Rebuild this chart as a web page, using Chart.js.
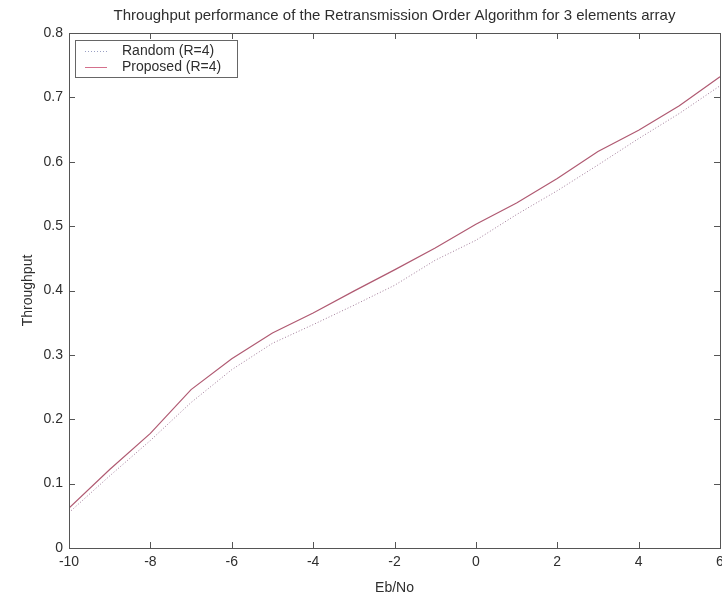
<!DOCTYPE html>
<html>
<head>
<meta charset="utf-8">
<script src="https://cdn.jsdelivr.net/npm/chart.js@4"></script>
<style>
html,body{margin:0;padding:0;background:#fff;}
#wrap{width:722px;height:598px;position:relative;}
</style>
</head>
<body>
<div id="wrap"><canvas id="c" width="722" height="598"></canvas></div>
<script>
const ebno = [-10, -9, -8, -7, -6, -5, -4, -3, -2, -1, 0, 1, 2, 3, 4, 5, 6];
const randomR4 = [0.055, 0.112, 0.167, 0.226, 0.277, 0.318, 0.347, 0.377, 0.408, 0.447, 0.478, 0.518, 0.555, 0.595, 0.636, 0.675, 0.718];
const proposedR4 = [0.062, 0.122, 0.178, 0.246, 0.294, 0.334, 0.365, 0.399, 0.432, 0.466, 0.503, 0.536, 0.574, 0.616, 0.649, 0.687, 0.732];
const xTickLabels = ['-10', '-8', '-6', '-4', '-2', '0', '2', '4', '6'];
const yTickLabels = ['0', '0.1', '0.2', '0.3', '0.4', '0.5', '0.6', '0.7', '0.8'];
const seriesNames = ['Random (R=4)', 'Proposed (R=4)'];
const titleText = 'Throughput performance of the Retransmission Order Algorithm for 3 elements array';

const FONT = 'Arial, "Liberation Sans", Helvetica, sans-serif';
const TXT = '#2e2e2e';
const RAND_COLOR = '#a07a98';
const PROP_COLOR = '#b05a72';

const framePlugin = {
  id: 'frame',
  afterDatasetsDraw(chart) {
    const {ctx, chartArea: a, scales} = chart;
    ctx.save();
    // title, centred on plot area
    ctx.font = '15px ' + FONT;
    ctx.fillStyle = TXT;
    ctx.textAlign = 'center';
    ctx.textBaseline = 'middle';
    ctx.fillText(titleText, (a.left + a.right) / 2, 16);

    ctx.strokeStyle = '#555';
    ctx.lineWidth = 1;
    ctx.strokeRect(Math.round(a.left) + 0.5, Math.round(a.top) + 0.5, Math.round(a.right - a.left), Math.round(a.bottom - a.top));
    const tl = 6;
    ctx.beginPath();
    scales.x.ticks.forEach(t => {
      const px = Math.round(scales.x.getPixelForValue(t.value)) + 0.5;
      ctx.moveTo(px, a.bottom); ctx.lineTo(px, a.bottom - tl);
      ctx.moveTo(px, a.top); ctx.lineTo(px, a.top + tl);
    });
    scales.y.ticks.forEach(t => {
      const py = Math.round(scales.y.getPixelForValue(t.value)) + 0.5;
      ctx.moveTo(a.left, py); ctx.lineTo(a.left + tl, py);
      ctx.moveTo(a.right, py); ctx.lineTo(a.right - tl, py);
    });
    ctx.stroke();

    // legend box
    const lx = a.left + 6, ly = a.top + 7, lw = 162, lh = 37;
    ctx.fillStyle = '#ffffff';
    ctx.fillRect(lx, ly, lw, lh);
    ctx.strokeStyle = '#666';
    ctx.strokeRect(lx + 0.5, ly + 0.5, lw, lh);
    const ds = chart.data.datasets;
    ctx.font = '14px ' + FONT;
    ctx.textBaseline = 'middle';
    ctx.textAlign = 'left';
    ds.forEach((d, i) => {
      const yy = ly + 11 + i * 16;
      ctx.beginPath();
      ctx.strokeStyle = i === 0 ? '#9aa0c4' : '#d4708c';
      ctx.setLineDash(d.borderDash || []);
      ctx.lineWidth = 1;
      ctx.moveTo(lx + 10, yy + 0.5); ctx.lineTo(lx + 32, yy + 0.5);
      ctx.stroke();
      ctx.setLineDash([]);
      ctx.fillStyle = TXT;
      ctx.fillText(d.label, lx + 47, yy);
    });
    ctx.restore();
  }
};

new Chart(document.getElementById('c'), {
  type: 'line',
  data: {
    labels: ebno,
    datasets: [
      {
        label: seriesNames[0],
        data: ebno.map((x, i) => ({x: x, y: randomR4[i]})),
        borderColor: RAND_COLOR,
        borderWidth: 1,
        borderDash: [1, 2],
        pointRadius: 0,
        tension: 0,
        fill: false
      },
      {
        label: seriesNames[1],
        data: ebno.map((x, i) => ({x: x, y: proposedR4[i]})),
        borderColor: PROP_COLOR,
        borderWidth: 1.2,
        pointRadius: 0,
        tension: 0,
        fill: false
      }
    ]
  },
  options: {
    responsive: false,
    animation: false,
    devicePixelRatio: 1,
    layout: {padding: {left: 0, right: 2, top: 33, bottom: 0}},
    plugins: {
      legend: {display: false},
      tooltip: {enabled: false},
      title: {display: false}
    },
    scales: {
      x: {
        type: 'linear',
        min: -10, max: 6,
        grid: {display: false, drawTicks: false},
        border: {display: false},
        ticks: {
          stepSize: 2,
          padding: 6,
          color: TXT,
          font: {family: FONT, size: 14},
          maxRotation: 0,
          autoSkip: false,
          callback: (v, i) => xTickLabels[i]
        },
        title: {
          display: true,
          text: 'Eb/No',
          color: TXT,
          font: {family: FONT, size: 14},
          padding: {top: 0, bottom: 1}
        },
        afterFit(s) { s.height = 50; s.paddingLeft = 0; s.paddingRight = 0; }
      },
      y: {
        type: 'linear',
        min: 0, max: 0.8,
        grid: {display: false, drawTicks: false},
        border: {display: false},
        ticks: {
          stepSize: 0.1,
          padding: 6,
          color: TXT,
          font: {family: FONT, size: 14},
          autoSkip: false,
          callback: (v, i) => yTickLabels[i]
        },
        title: {
          display: true,
          text: 'Throughput',
          color: TXT,
          font: {family: FONT, size: 14},
          padding: {top: 20, bottom: 0}
        },
        afterFit(s) { s.width = 69; s.paddingTop = 0; s.paddingBottom = 0; }
      }
    }
  },
  plugins: [framePlugin]
});
</script>
</body>
</html>
